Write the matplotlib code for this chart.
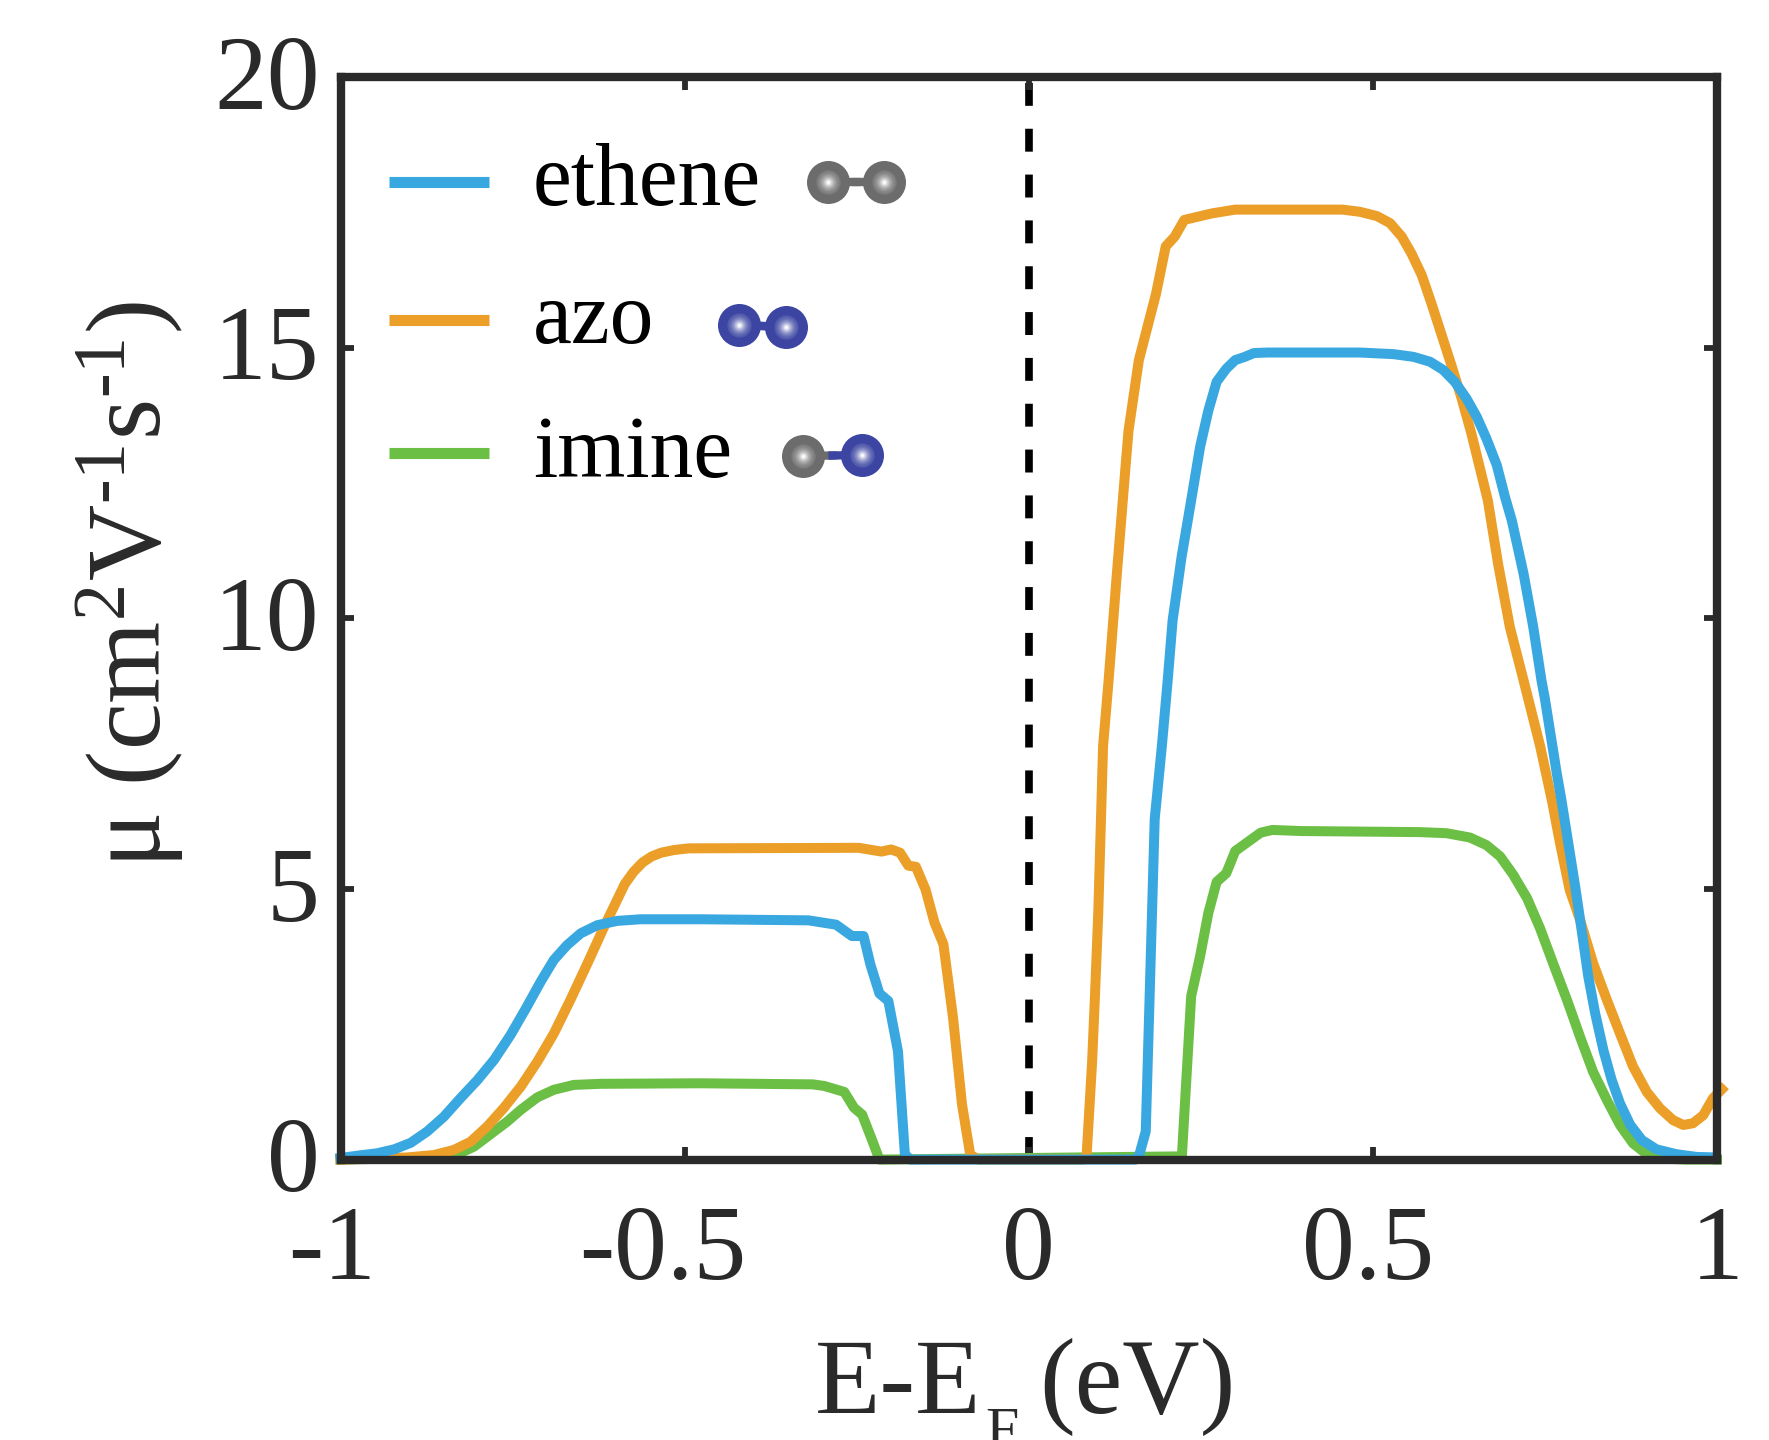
import numpy as np
import matplotlib
matplotlib.use("Agg")
import matplotlib.pyplot as plt
from matplotlib.transforms import ScaledTranslation

plt.rcParams['font.family'] = ['Liberation Serif', 'DejaVu Serif']
plt.rcParams['mathtext.fontset'] = 'custom'
plt.rcParams['mathtext.rm'] = 'Liberation Serif'
plt.rcParams['mathtext.default'] = 'regular'

# values
ethene_x = [-1, -0.971, -0.947, -0.922, -0.898, -0.874, -0.85, -0.826, -0.801, -0.777, -0.753, -0.729, -0.709, -0.69, -0.671,
            -0.651, -0.627, -0.598, -0.564, -0.477, -0.32, -0.28, -0.257, -0.24, -0.23, -0.217, -0.204, -0.19, -0.18, -0.172,
            0.155, 0.16, 0.17, 0.183, 0.1934, 0.202, 0.209, 0.222, 0.236, 0.249, 0.261, 0.273, 0.287, 0.3, 0.314, 0.327, 0.347,
            0.481, 0.53, 0.559, 0.583, 0.602, 0.619, 0.636, 0.651, 0.665, 0.68, 0.692, 0.702, 0.719, 0.733, 0.745, 0.75, 0.767,
            0.774, 0.784, 0.794, 0.804, 0.813, 0.823, 0.835, 0.847, 0.859, 0.874, 0.891, 0.912, 0.941, 0.97, 0.997]
ethene_y = [0.03, 0.08, 0.116, 0.19, 0.31, 0.52, 0.79, 1.13, 1.47, 1.84, 2.3, 2.83, 3.29, 3.69, 3.96,
            4.18, 4.33, 4.41, 4.44, 4.44, 4.42, 4.34, 4.13, 4.13, 3.6, 3.07, 2.93, 2.0, 0.1, 0,
            0, 0.06, 0.52, 6.29, 7.64, 8.87, 9.96, 11.13, 12.18, 13.17, 13.84, 14.37, 14.61, 14.77, 14.83, 14.9, 14.91,
            14.91, 14.88, 14.83, 14.74, 14.59, 14.37, 14.06, 13.72, 13.32, 12.83, 12.24, 11.8, 10.82, 9.84, 8.85, 8.51, 7.15,
            6.64, 5.84, 5.04, 4.18, 3.38, 2.7, 2.02, 1.47, 1.04, 0.64, 0.36, 0.19, 0.1, 0.05, 0.04]

azo_x = [-1, -0.903, -0.864, -0.835, -0.811, -0.787, -0.763, -0.738, -0.714, -0.69, -0.666, -0.641, -0.617, -0.598,
         -0.587, -0.574, -0.561, -0.548, -0.534, -0.515, -0.494,
         -0.247, -0.214, -0.2, -0.187, -0.175, -0.164, -0.15, -0.137, -0.124, -0.11, -0.097, -0.085, -0.073,
         0.078, 0.084, 0.092, 0.096, 0.101, 0.108, 0.116, 0.128, 0.141, 0.145, 0.16, 0.185, 0.199, 0.212, 0.226, 0.246, 0.266, 0.3,
         0.456, 0.481, 0.506, 0.525, 0.542, 0.556, 0.571, 0.585, 0.6, 0.614, 0.629, 0.643, 0.655, 0.667, 0.682, 0.699, 0.719,
         0.743, 0.76, 0.772, 0.786, 0.801, 0.82, 0.84, 0.859, 0.878, 0.898, 0.917, 0.936, 0.951, 0.965, 0.98, 0.994, 1.007]
azo_y = [0, 0.04, 0.085, 0.18, 0.33, 0.61, 0.95, 1.35, 1.81, 2.33, 2.95, 3.63, 4.3, 4.8,
         5.09, 5.32, 5.49, 5.6, 5.67, 5.72, 5.75,
         5.76, 5.69, 5.73, 5.67, 5.43, 5.41, 4.99, 4.38, 3.98, 2.62, 1.02, 0.09, 0,
         0, 0.06, 1.79, 2.96, 4.56, 7.64, 8.85, 10.82, 12.86, 13.47, 14.77, 16.0, 16.87, 17.05, 17.36, 17.42, 17.48, 17.55,
         17.55, 17.51, 17.43, 17.3, 17.05, 16.74, 16.34, 15.82, 15.23, 14.68, 14.06, 13.42, 12.8, 12.18, 11.0, 9.84, 8.85,
         7.64, 6.64, 5.84, 4.98, 4.43, 3.63, 2.95, 2.33, 1.72, 1.25, 0.95, 0.73, 0.64, 0.67, 0.82, 1.13, 1.3]

imine_x = [-1, -0.84, -0.806, -0.782, -0.758, -0.738, -0.714, -0.69, -0.661, -0.622, -0.477, -0.314, -0.297, -0.268, -0.254,
           -0.242, -0.227, -0.217,
           0.2225, 0.236, 0.249, 0.261, 0.273, 0.287, 0.3, 0.337, 0.354, 0.395, 0.568, 0.607, 0.641, 0.665, 0.685, 0.704, 0.724,
           0.743, 0.762, 0.782, 0.801, 0.82, 0.84, 0.859, 0.878, 0.898, 0.917, 0.956, 1.0]
imine_y = [0, 0.04, 0.24, 0.47, 0.7, 0.92, 1.15, 1.29, 1.38, 1.4, 1.41, 1.39, 1.36, 1.25, 0.96,
           0.83, 0.34, 0,
           0.06, 3.02, 3.76, 4.56, 5.13, 5.29, 5.7, 6.04, 6.09, 6.07, 6.05, 6.03, 5.95, 5.81, 5.6, 5.26, 4.83,
           4.27, 3.62, 2.95, 2.27, 1.62, 1.1, 0.64, 0.3, 0.1, 0.02, 0, 0]

names = ["ethene", "azo", "imine"]
xticks = [-1, -0.5, 0, 0.5, 1]
xtick_labels = ["-1", "-0.5", "0", "0.5", "1"]
yticks = [0, 5, 10, 15, 20]

BLUE = "#3aa8e0"
ORANGE = "#eb9f28"
GREEN = "#6cbf45"
DARK = "#2a2a2a"
GRAY_ATOM = "#6c6c6c"
BLUE_ATOM = "#3c46a2"

W, H = 1769, 1440
fig = plt.figure(figsize=(W / 100, H / 100), dpi=100)
ax = fig.add_axes([340.5 / W, 1 - 1159.6 / H, (1717 - 340.5) / W, (1159.6 - 77) / H])


def px(x, y):
    return x / W, 1 - y / H


ax.axvline(0, color="black", lw=5.5, linestyle=(0, (3, 3)), ymin=0, ymax=0.995, zorder=1.5)
ax.plot(imine_x, imine_y, color=GREEN, lw=7.2, clip_on=False, zorder=2.1)
ax.plot(azo_x, azo_y, color=ORANGE, lw=7.2, clip_on=False, zorder=2.2)
ax.plot(ethene_x, ethene_y, color=BLUE, lw=7.2, clip_on=False, zorder=2.3)
ax.set_xlim(-1, 1)
ax.set_ylim(0, 20)

ax.set_xticks(xticks)
ax.set_xticklabels(xtick_labels)
ax.set_yticks(yticks)
ax.tick_params(direction="in", length=9.5, width=4.2, color=DARK, labelcolor=DARK,
               labelsize=76, top=True, right=True)
ax.tick_params(axis="x", pad=33)
ax.tick_params(axis="y", pad=15)
for s in ax.spines.values():
    s.set_linewidth(6)
    s.set_color(DARK)
    s.set_zorder(3)

# the hyphen sticks out to the left in the original, labels sit a bit higher too
for lab, t in zip(ax.get_xticklabels(), xtick_labels):
    dx = {"-0.5": -22, "-1": -8, "0.5": -5}.get(t, 0)
    lab.set_transform(lab.get_transform() + ScaledTranslation(dx / 100, 0, fig.dpi_scale_trans))
for lab in ax.get_yticklabels():
    lab.set_transform(lab.get_transform() + ScaledTranslation(0, 5 / 100, fig.dpi_scale_trans))

# x label in pieces, the subscript F runs off the bottom edge like the original
fig.text(*px(815, 1413), "E-E", fontsize=77, color=DARK, va="baseline")
fig.text(*px(985, 1448), "F", fontsize=43, color=DARK, va="baseline")
fig.text(*px(1039, 1413), "(eV)", fontsize=77, color=DARK, va="baseline")
fig.text(*px(160, 585), r"μ (cm$^{2}$V$^{\text{-1}}$s$^{\text{-1}}$)", fontsize=76, color=DARK,
         rotation=90, ha="center", va="baseline", rotation_mode="anchor")

# legend is placed by hand, the rows are not evenly spaced in the original
line_y = [182, 320, 453]
text_y = [205, 343, 477]
for name, col, ly, ty in zip(names, [BLUE, ORANGE, GREEN], line_y, text_y):
    fig.add_artist(plt.Line2D([388.6 / W, 488.6 / W], [1 - ly / H] * 2, color=col, lw=8,
                              solid_capstyle="butt"))
    fig.text(*px(533, ty), name, fontsize=63, color="black", va="baseline")


def atom(x, y, col):
    fx, fy = px(x, y)
    base = np.array(matplotlib.colors.to_rgb(col))
    for f in np.linspace(1, 0.06, 14):
        mix = min(1, (1 - f) ** 3 * 1.3) if f < 0.6 else 0
        c = base + (1 - base) * mix
        d = 43 * f * 0.72
        fig.add_artist(plt.Line2D([fx], [fy], marker="o", markersize=d, markerfacecolor=c,
                                  markeredgecolor="none", linestyle="none"))


def molecule(x1, y1, c1, x2, y2, c2):
    mx, my = (x1 + x2) / 2, (y1 + y2) / 2
    f1, f2, f3 = px(x1, y1), px(mx, my), px(x2, y2)
    fig.add_artist(plt.Line2D([f1[0], f2[0]], [f1[1], f2[1]], color=c1, lw=6))
    fig.add_artist(plt.Line2D([f2[0], f3[0]], [f2[1], f3[1]], color=c2, lw=6))
    atom(x1, y1, c1)
    atom(x2, y2, c2)


molecule(828, 182, GRAY_ATOM, 884, 182, GRAY_ATOM)
molecule(738.5, 325, BLUE_ATOM, 785.5, 327, BLUE_ATOM)
molecule(803, 456, GRAY_ATOM, 862, 455, BLUE_ATOM)

fig.savefig("out.png", dpi=100)
